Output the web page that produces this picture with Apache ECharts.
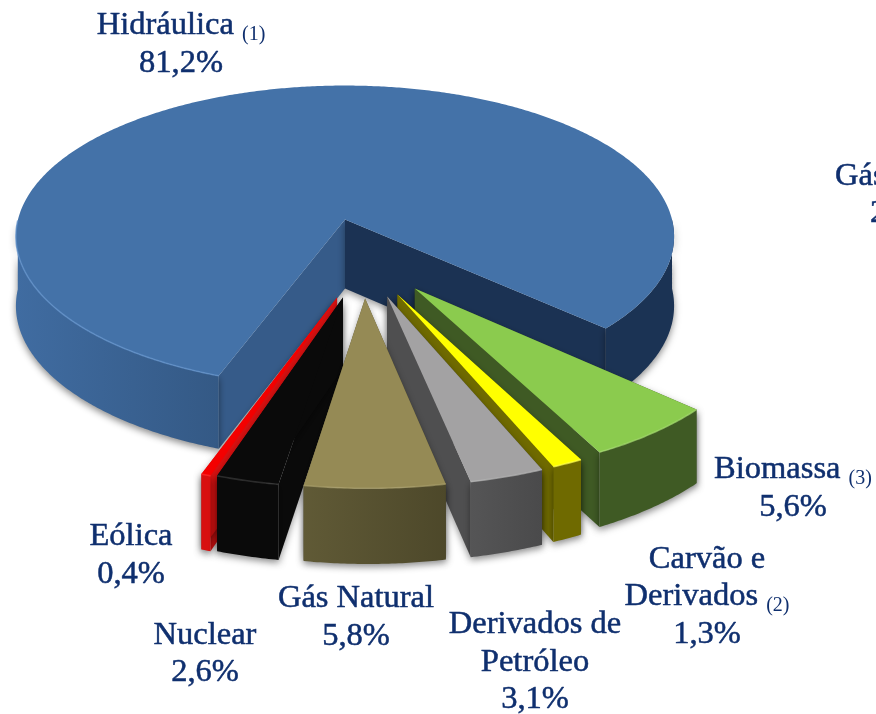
<!DOCTYPE html>
<html>
<head>
    <meta charset="utf-8">
    <style>
        html, body { margin: 0; padding: 0; background: #fff; }
        #main { width: 876px; height: 714px; }
    </style>
</head>
<body>
<div id="main"></div>
<script src="https://cdn.jsdelivr.net/npm/echarts@6/dist/echarts.min.js"></script>
<script>
    // dados
    var categories = ['Hidráulica', 'Biomassa', 'Carvão e\nDerivados', 'Derivados de\nPetróleo', 'Gás Natural', 'Nuclear', 'Eólica'];
    var values = [81.2, 5.6, 1.3, 3.1, 5.8, 2.6, 0.4];
    var notes = ['(1)', '(3)', '(2)', '', '', '', ''];

    // rotulo cortado na borda direita da figura
    var cutLabels = ['Gás', '2'];

    // layout da "pizza 3D"
    var cx = 345, cy = 219.5, R = 327, K = 149, persp = 8.9, H = 69;
    var startAngle = -20.2;
    // deslocamento de cada fatia no plano do disco
    var explode = [[0, 0], [0.203, 0.44], [0.152, 0.476], [0.122, 0.489], [0.058, 0.5], [-0.006, 0.495], [-0.023, 0.495]];
    var drawOrder = [0, 1, 2, 3, 6, 5, 4];
    var labelPos = [[181, 44.5], [793, 488.5], [707, 596.5], [535, 662], [356, 617.5], [205, 654], [131, 555.5]];

    function hGrad(a, b) {
        return { type: 'linear', x: 0, y: 0, x2: 1, y2: 0, colorStops: [{ offset: 0, color: a }, { offset: 1, color: b }] };
    }

    var sliceStyle = [
        { top: '#4472a8', wallA: '#365b89', wallB: '#1b3253', rimL: hGrad('#406ca1', '#345985'), rimR: '#1b3354', edge: '#6393cc' },
        { top: '#8bcb4e', wallA: '#3f5a24', wallB: '#3f5a24', rimL: '#3f5a24', rimR: '#3f5a24', edge: '#a5dc70' },
        { top: '#ffff00', wallA: '#6f6a00', wallB: '#6f6a00', rimL: '#6f6a00', rimR: '#6f6a00', edge: '#ffff50' },
        { top: '#a3a2a3', wallA: '#4f4f50', wallB: '#4f4f50', rimL: hGrad('#555556', '#4a4a4b'), rimR: '#4f4f50', edge: '#b5b5b5' },
        { top: '#958a55', wallA: '#544e2c', wallB: '#544e2c', rimL: hGrad('#605a36', '#4d482a'), rimR: '#5a5431', edge: '#aaa06c' },
        { top: '#0a0a0a', wallA: '#0a0a0a', wallB: '#0a0a0a', rimL: '#0a0a0a', rimR: '#0a0a0a', edge: '#3a3a3a' },
        { top: '#f40000', wallA: '#d81010', wallB: '#d81010', rimL: '#d81010', rimR: '#d81010', edge: '#ff3030' }
    ];

    var textColor = '#0f2f6e';
    var textFont = '"Liberation Serif", serif';

    // angulos de inicio de cada fatia (sentido horario na tela)
    var angleStart = [];
    values.reduce(function (a, v, i) {
        angleStart[i] = a;
        return a - v * 3.6;
    }, startAngle);

    function project(X, Y) {
        var s = 1 / (1 - Y / persp);
        var y = cy + K * Y * s;
        return { top: [cx + R * X * s, y], bottom: [cx + R * X * s, y + H * Math.sqrt(s)] };
    }

    function discPoint(angle, off) {
        var r = angle * Math.PI / 180;
        return project(Math.sin(r) + off[0], Math.cos(r) + off[1]);
    }

    function wall(a, b, color, z2) {
        return {
            type: 'polygon',
            z2: z2,
            shape: { points: [a.top, b.top, b.bottom, a.bottom] },
            style: { fill: color, shadowBlur: 7, shadowColor: 'rgba(0,0,0,0.4)', shadowOffsetY: 3 }
        };
    }

    function renderSlice(params, api) {
        var i = params.dataIndex;
        var st = sliceStyle[i];
        var off = explode[i];
        var a0 = angleStart[i];
        var a1 = a0 - api.value(0) * 3.6;
        var z = drawOrder.indexOf(i) * 10;
        var apex = project(off[0], off[1]);
        var children = [];

        children.push(wall(apex, discPoint(a0, off), st.wallA, z));
        children.push(wall(apex, discPoint(a1, off), st.wallB, z));

        // contorno e lateral externa (so a parte voltada para frente)
        var outline = [apex.top];
        var run = [];
        var runs = [run];
        var n = Math.max(2, Math.ceil((a0 - a1) * 2));
        for (var k = 0; k <= n; k++) {
            var a = a0 + (a1 - a0) * k / n;
            var p = discPoint(a, off);
            outline.push(p.top);
            if (Math.cos(a * Math.PI / 180) > 0) {
                run.push(p);
            } else if (run.length) {
                run = [];
                runs.push(run);
            }
        }
        runs.forEach(function (r) {
            if (r.length < 2) return;
            var pts = r.map(function (p) { return p.top; });
            var back = r.map(function (p) { return p.bottom; }).reverse();
            var isRight = r[0].top[0] > cx + off[0] * R * 1.05 && i === 0;
            children.push({
                type: 'polygon',
                z2: z + 1,
                shape: { points: pts.concat(back) },
                style: { fill: isRight ? st.rimR : st.rimL, shadowBlur: 7, shadowColor: 'rgba(0,0,0,0.45)', shadowOffsetY: 3 }
            });
            if (!isRight) {
                children.push({
                    type: 'polyline',
                    z2: z + 3,
                    shape: { points: pts },
                    style: { fill: null, stroke: st.edge, lineWidth: 1.6, opacity: 0.7 }
                });
            }
        });

        children.push({
            type: 'polygon',
            z2: z + 2,
            shape: { points: outline },
            style: { fill: st.top }
        });

        return { type: 'group', children: children };
    }

    function labelElement(i) {
        var lines = categories[i].split('\n');
        var txt = lines.map(function (l, k) {
            var note = (k === lines.length - 1 && notes[i]) ? '{n| }{s|' + notes[i] + '}' : '';
            return '{n|' + l + '}' + note;
        }).join('\n');
        txt += '\n{n|' + values[i].toFixed(1).replace('.', ',') + '%}';
        return {
            type: 'text',
            x: labelPos[i][0],
            y: labelPos[i][1],
            z: 10,
            style: {
                text: txt,
                align: 'center',
                verticalAlign: 'middle',
                fill: textColor,
                rich: {
                    n: { fontFamily: textFont, fontSize: 32.5, lineHeight: 37.5, fill: textColor, stroke: textColor, lineWidth: 0.5 },
                    s: { fontFamily: textFont, fontSize: 20, lineHeight: 28, fill: textColor, verticalAlign: 'bottom' }
                }
            }
        };
    }

    var graphicEls = categories.map(function (c, i) { return labelElement(i); });
    cutLabels.forEach(function (t, i) {
        graphicEls.push({
            type: 'text',
            x: i === 0 ? 835 : 870,
            y: i === 0 ? 176.5 : 213.5,
            z: 10,
            style: { text: t, align: 'left', verticalAlign: 'middle', fill: textColor, stroke: textColor, lineWidth: 0.5, fontFamily: textFont, fontSize: 32.5 }
        });
    });

    var chart = echarts.init(document.getElementById('main'));
    chart.setOption({
        animation: false,
        backgroundColor: '#fff',
        graphic: { elements: graphicEls },
        series: [{
            type: 'custom',
            coordinateSystem: 'none',
            renderItem: renderSlice,
            data: values.map(function (v) { return [v]; })
        }]
    });
</script>
</body>
</html>
